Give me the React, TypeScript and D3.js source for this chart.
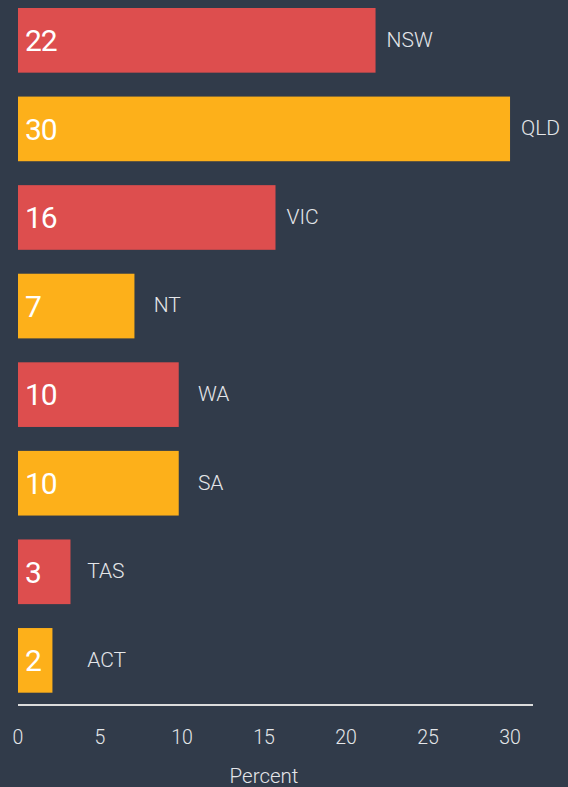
import React from "react";
import * as d3 from "d3";

const categories = ["NSW", "QLD", "VIC", "NT", "WA", "SA", "TAS", "ACT"];
const values = [21.8, 30, 15.7, 7.1, 9.8, 9.8, 3.2, 2.1];
const labelAnchors = [21.8, 30, 15.7, 7.6, 10.3, 10.3, 3.55, 3.55];
const ticks = [0, 5, 10, 15, 20, 25, 30];
const axisTitle = "Percent";

const W = 568;
const H = 787;
const BG = "#313b4a";
const PALETTE = ["#dd4e4e", "#fdb01a"];
const FONT = "Roboto, 'Liberation Sans', Arial, sans-serif";

export default function App() {
  const x = d3.scaleLinear().domain([0, 31.4]).range([18, 533]);
  const y = d3
    .scaleBand<string>()
    .domain(categories)
    .range([8, 692.7])
    .paddingInner(0.27)
    .paddingOuter(0);
  const bh = y.bandwidth();

  return (
    <div style={{ position: "fixed", left: 0, top: 0, width: W, height: H, background: BG }}>
      <svg width={W} height={H} style={{ display: "block" }} fontFamily={FONT}>
        <rect x={0} y={0} width={W} height={H} fill={BG} />
        {categories.map((c, i) => {
          const y0 = y(c) as number;
          const cy = y0 + bh / 2;
          return (
            <g key={c}>
              <rect x={x(0)} y={y0} width={x(values[i]) - x(0)} height={bh} fill={PALETTE[i % 2]} />
              <text
                x={x(0) + 7}
                y={cy}
                dy="0.36em"
                fill="#ffffff"
                fontSize={30}
                fontWeight={400}
                letterSpacing={-1}
              >
                {Math.round(values[i])}
              </text>
              <text
                x={x(labelAnchors[i]) + 11}
                y={cy}
                dy="0.3em"
                fill="#e4e6e9"
                fontSize={21}
                fontWeight={300}
              >
                {c}
              </text>
            </g>
          );
        })}
        <line x1={x(0)} x2={x.range()[1]} y1={705} y2={705} stroke="#dcdcdc" strokeWidth={2} />
        {ticks.map((t) => (
          <text
            key={t}
            x={x(t)}
            y={743.5}
            textAnchor="middle"
            fill="#e4e6e9"
            fontSize={19.5}
            fontWeight={300}
          >
            {t}
          </text>
        ))}
        <text
          x={(x(0) + x(30)) / 2}
          y={783}
          textAnchor="middle"
          fill="#e4e6e9"
          fontSize={20.5}
          fontWeight={300}
        >
          {axisTitle}
        </text>
      </svg>
    </div>
  );
}
